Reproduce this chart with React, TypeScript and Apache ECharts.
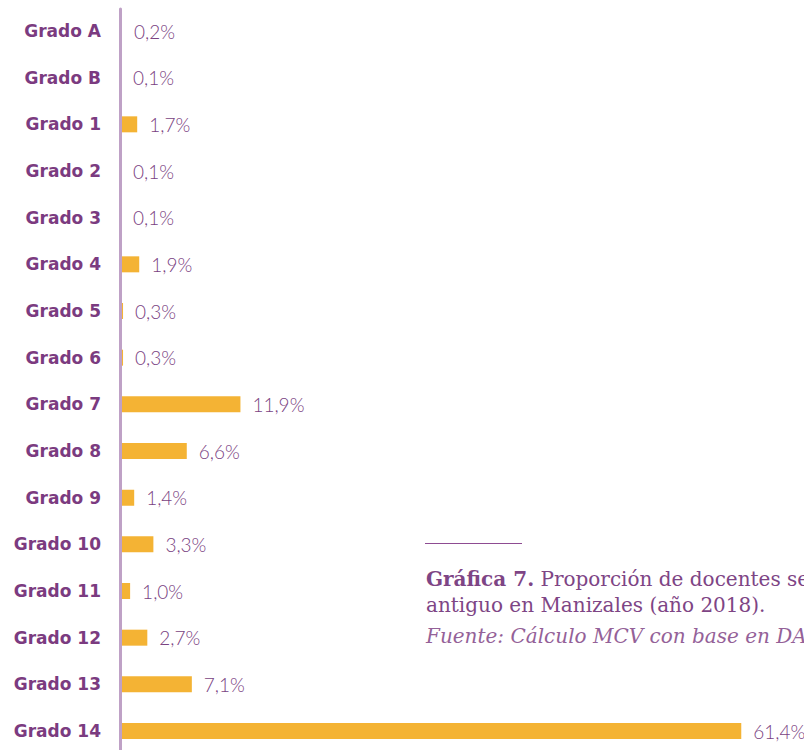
import React, { useEffect, useRef } from "react";
import * as echarts from "echarts";

const categories = [
  "Grado A", "Grado B", "Grado 1", "Grado 2", "Grado 3", "Grado 4", "Grado 5", "Grado 6",
  "Grado 7", "Grado 8", "Grado 9", "Grado 10", "Grado 11", "Grado 12", "Grado 13", "Grado 14",
];
const values = [0.2, 0.1, 1.7, 0.1, 0.1, 1.9, 0.3, 0.3, 11.9, 6.6, 1.4, 3.3, 1.0, 2.7, 7.1, 61.4];

const captionLine1 = "{b|Gráfica 7.} Proporción de docentes según grado del escalafón";
const captionLine2 = "antiguo en Manizales (año 2018).";
const sourceLine = "Fuente: Cálculo MCV con base en DANE";

export default function App() {
  const ref = useRef<HTMLDivElement>(null);
  useEffect(() => {
    if (!ref.current) return;
    const chart = echarts.init(ref.current, null, { renderer: "svg" });
    chart.setOption({
      animation: false,
      backgroundColor: "#ffffff",
      title: [
        {
          text: captionLine1 + "\n" + captionLine2,
          left: 421,
          top: 561,
          textStyle: {
            fontFamily: "DejaVu Serif",
            fontSize: 20,
            fontWeight: "normal",
            color: "#7E4585",
            lineHeight: 26,
            rich: {
              b: { fontFamily: "DejaVu Serif", fontSize: 20, fontWeight: "bold", color: "#7E4585", lineHeight: 26 },
            },
          },
        },
        {
          text: sourceLine,
          left: 421,
          top: 621,
          textStyle: {
            fontFamily: "DejaVu Serif",
            fontSize: 20,
            fontStyle: "italic",
            fontWeight: "normal",
            color: "#946198",
          },
        },
      ],
      graphic: [
        {
          type: "line",
          shape: { x1: 425, y1: 543.5, x2: 522, y2: 543.5 },
          style: { stroke: "#8E4C92", lineWidth: 1.2 },
        },
      ],
      grid: [
        { left: 120, top: 31, height: 700, right: 0 },
        { left: 120, top: 9, bottom: 0, right: 0 },
      ],
      xAxis: [
        { type: "value", min: 0, max: 67.6, show: false, gridIndex: 0 },
        { type: "value", min: 0, max: 1, show: false, gridIndex: 1 },
      ],
      yAxis: [
        {
          type: "category",
          gridIndex: 0,
          data: categories,
          inverse: true,
          boundaryGap: false,
          axisLine: { show: false },
          axisTick: { show: false },
          splitLine: { show: false },
          axisLabel: {
            margin: 19,
            fontFamily: "DejaVu Sans",
            fontWeight: "bold",
            fontSize: 17,
            color: "#7B3B80",
          },
        },
        {
          type: "value",
          gridIndex: 1,
          min: 0,
          max: 1,
          z: 10,
          axisLine: { show: true, lineStyle: { color: "#BFA1C6", width: 3 } },
          axisTick: { show: false },
          axisLabel: { show: false },
          splitLine: { show: false },
        },
      ],
      series: [
        {
          type: "bar",
          xAxisIndex: 0,
          yAxisIndex: 0,
          data: values,
          barWidth: 16,
          itemStyle: { color: "#F4B334" },
          z: 1,
          label: {
            show: true,
            position: "right",
            distance: 12,
            fontFamily: "Lato",
            fontWeight: 300,
            fontSize: 19,
            color: "#7A4282",
            formatter: (p: any) => p.value.toFixed(1).replace(".", ",") + "%",
          },
        },
      ],
    });
    return () => chart.dispose();
  }, []);
  return (
    <div
      ref={ref}
      style={{ position: "absolute", left: 0, top: 0, width: 804, height: 750 }}
    />
  );
}
